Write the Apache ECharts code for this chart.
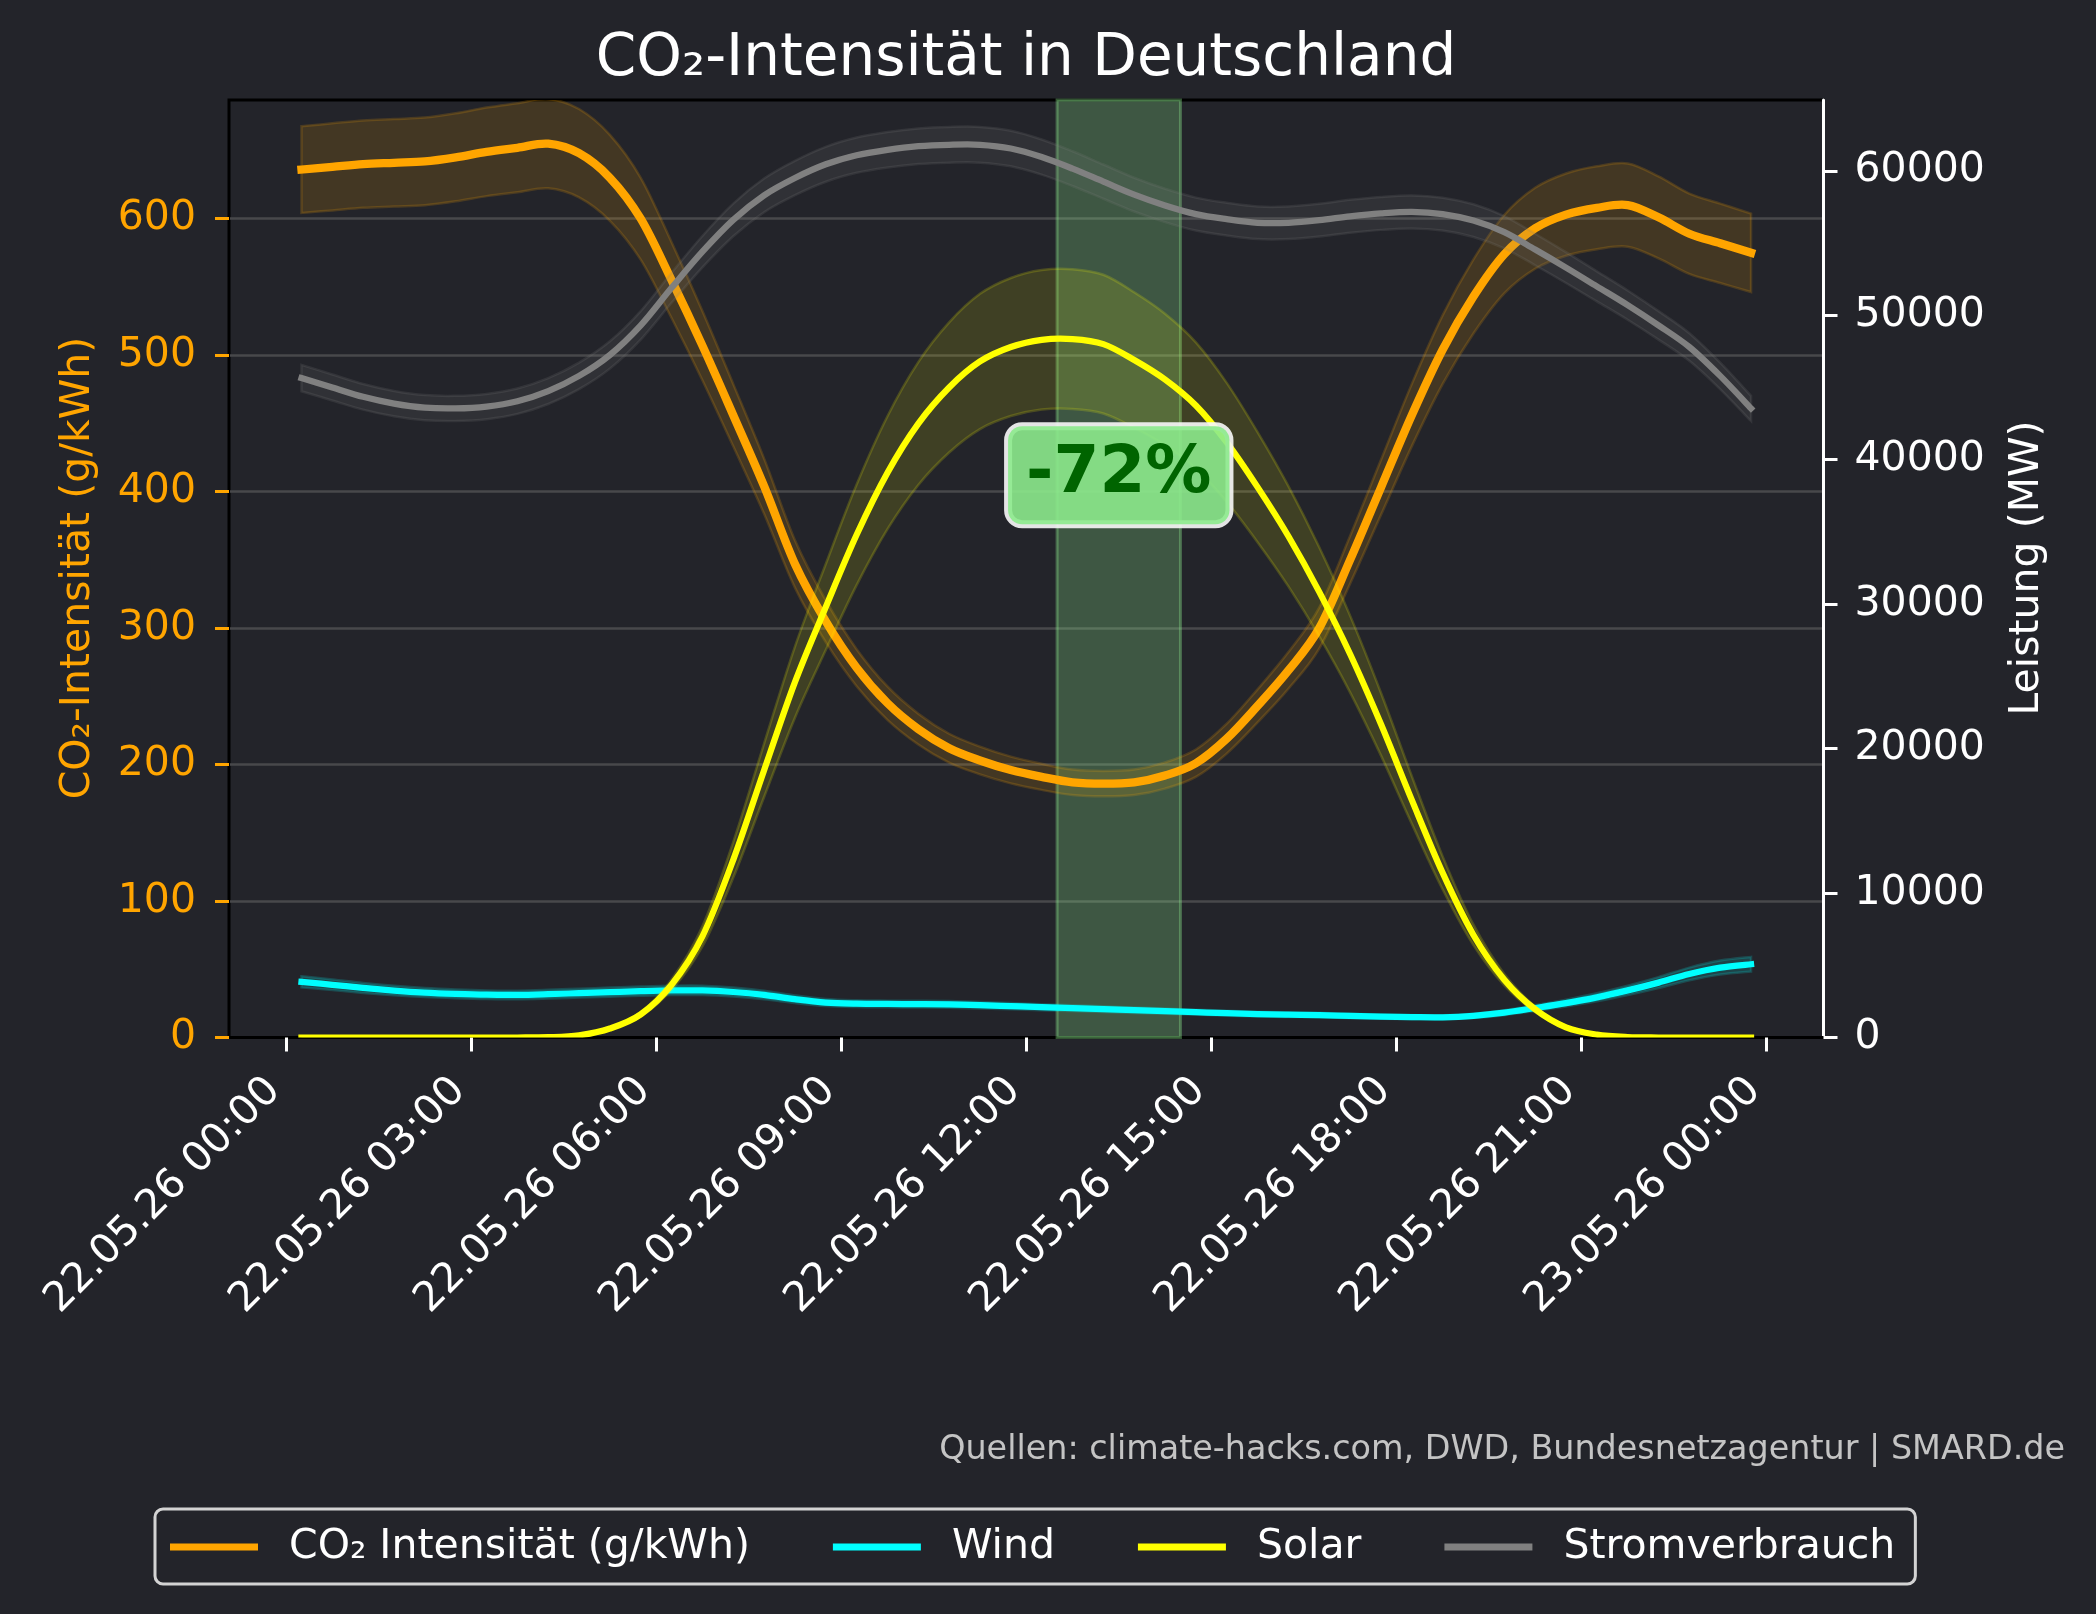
<!DOCTYPE html>
<html>
<head>
<meta charset="utf-8">
<script src="https://cdn.jsdelivr.net/npm/echarts@6/dist/echarts.min.js"></script>
<style>
html,body{margin:0;padding:0;background:#23242a;}
#c{width:2096px;height:1614px;}
</style>
</head>
<body>
<div id="c"></div>
<script>
// ---- data (hours after 22.05.26 00:00) ----
const hours = [0.25,0.75,1.25,1.75,2.25,2.75,3.25,3.75,4.25,4.75,5.25,5.75,6.25,6.75,7.25,7.75,8.25,8.75,9.25,9.75,10.25,10.75,11.25,11.75,12.25,12.75,13.25,13.75,14.25,14.75,15.25,15.75,16.25,16.75,17.25,17.75,18.25,18.75,19.25,19.75,20.25,20.75,21.25,21.75,22.25,22.75,23.25,23.75];
const co2 = [636,638,640,641,642,645,649,652,655,648,630,600,555,507,456,404,347,305,271,245,226,212,203,196,191,187,186,187,192,201,219,243,269,300,350,403,456,504,543,574,593,603,608,610,601,589,582,575];
const wind = [3850,3650,3430,3250,3110,3020,2960,2950,3000,3070,3140,3210,3260,3260,3150,2950,2650,2420,2340,2320,2310,2290,2240,2170,2100,2030,1960,1890,1820,1750,1680,1620,1580,1550,1490,1440,1410,1400,1500,1720,2040,2380,2780,3260,3800,4400,4840,5070];
const solar = [0,0,0,0,0,0,0,0,20,150,620,1600,3650,7000,12300,18500,24600,29800,34800,39100,42500,45000,46800,47800,48300,48350,48000,46900,45550,43750,41200,38100,34700,30850,26550,21700,16450,11400,7100,4000,1950,700,200,30,0,0,0,0];
const strom = [45650,45000,44350,43880,43600,43550,43680,44050,44750,45800,47250,49300,51900,54400,56600,58300,59500,60450,61080,61450,61700,61800,61800,61540,60950,60150,59250,58350,57600,57000,56650,56400,56400,56580,56850,57050,57150,57000,56550,55750,54550,53300,52000,50700,49300,47800,45800,43550];
// relative uncertainty of the shaded bands
const co2Unc = 0.05, windUnc = 0.10, solarUnc = 0.10, stromUnc = 0.02;

const xTickHours = [0,3,6,9,12,15,18,21,24];
const xTickLabels = ['22.05.26 00:00','22.05.26 03:00','22.05.26 06:00','22.05.26 09:00','22.05.26 12:00','22.05.26 15:00','22.05.26 18:00','22.05.26 21:00','23.05.26 00:00'];
const leftTicks = [0,100,200,300,400,500,600];
const rightTicks = [0,10000,20000,30000,40000,50000,60000];

const highlightStart = 12.5, highlightEnd = 14.5;
const annotText = '-72%', annotHour = 13.5, annotCo2 = 412;

const names = ['CO₂ Intensität (g/kWh)', 'Wind', 'Solar', 'Stromverbrauch'];
const colors = ['#FFA500', '#00FFFF', '#FFFF00', '#808080'];
const titleText = 'CO₂-Intensität in Deutschland';
const leftName = 'CO₂-Intensität (g/kWh)';
const rightName = 'Leistung (MW)';
const sourceText = 'Quellen: climate-hacks.com, DWD, Bundesnetzagentur | SMARD.de';

// ---- build ----
const FONT = 'DejaVu Sans';
const BG = '#23242a';

// cubic bezier path through pixel points (Catmull-Rom)
function curvePath(p, start) {
  let d = (start ? 'M' : 'L') + p[0][0] + ' ' + p[0][1];
  for (let i = 0; i < p.length - 1; i++) {
    const p0 = p[i - 1] || p[i], p1 = p[i], p2 = p[i + 1], p3 = p[i + 2] || p[i + 1];
    const c1x = p1[0] + (p2[0] - p0[0]) / 6, c1y = p1[1] + (p2[1] - p0[1]) / 6;
    const c2x = p2[0] - (p3[0] - p1[0]) / 6, c2y = p2[1] - (p3[1] - p1[1]) / 6;
    d += ' C' + c1x + ' ' + c1y + ' ' + c2x + ' ' + c2y + ' ' + p2[0] + ' ' + p2[1];
  }
  return d;
}

function band(key, arr, unc, color, yIdx, fillOp, z) {
  const data = hours.map((h, i) => [h, arr[i] * (1 - unc), arr[i] * (1 + unc)]);
  return {
    type: 'custom', name: key, yAxisIndex: yIdx, z: z, silent: true, animation: false, clip: true,
    encode: {x: 0, y: [1, 2]},
    data: data,
    renderItem: function (params, api) {
      if (params.dataIndex !== 0) return null;
      const up = data.map(d => api.coord([d[0], d[2]]));
      const lo = data.map(d => api.coord([d[0], d[1]])).reverse();
      return {
        type: 'path',
        shape: {pathData: curvePath(up, true) + ' ' + curvePath(lo, false) + ' Z'},
        style: {fill: echarts.color.modifyAlpha(color, fillOp), stroke: echarts.color.modifyAlpha(color, 0.18), lineWidth: 2.5}
      };
    }
  };
}
function line(name, arr, color, width, yIdx, z, extra) {
  const data = hours.map((h, i) => [h, arr[i]]);
  return Object.assign({
    type: 'custom', name: name, yAxisIndex: yIdx, z: z, silent: true, animation: false, clip: true,
    encode: {x: 0, y: 1}, itemStyle: {color: color},
    data: data,
    renderItem: function (params, api) {
      if (params.dataIndex !== 0) return null;
      const p = data.map(d => api.coord(d));
      return {
        type: 'path',
        shape: {pathData: curvePath(p, true)},
        style: {fill: null, stroke: color, lineWidth: width, lineCap: 'square', lineJoin: 'round'}
      };
    }
  }, extra || {});
}

const chart = echarts.init(document.getElementById('c'), null, {renderer: 'canvas', width: 2096, height: 1614});

const series = [
  band('co2b', co2, co2Unc, colors[0], 0, 0.15, 2),
  line(names[0], co2, colors[0], 8.3, 0, 3, {
    markArea: {silent: true, itemStyle: {color: 'rgba(144,238,144,0.25)', borderColor: 'rgba(144,238,144,0.35)', borderWidth: 3},
      data: [[{xAxis: highlightStart}, {xAxis: highlightEnd}]]}
  }),
  band('windb', wind, windUnc, colors[1], 1, 0.15, 4),
  line(names[1], wind, colors[1], 6.25, 1, 5),
  band('solarb', solar, solarUnc, colors[2], 1, 0.13, 6),
  line(names[2], solar, colors[2], 6.25, 1, 7),
  band('stromb', strom, stromUnc, colors[3], 1, 0.15, 8),
  line(names[3], strom, colors[3], 6.25, 1, 9),
  {type: 'scatter', name: 'annot', yAxisIndex: 0, z: 20, silent: true, animation: false,
    symbolSize: 0, itemStyle: {color: 'rgba(0,0,0,0)', opacity: 1},
    data: [[annotHour, annotCo2]],
    label: {show: true, position: 'inside', opacity: 1, formatter: annotText, fontFamily: FONT, fontSize: 66, fontWeight: 'bold',
      color: '#006400', textBorderWidth: 0, backgroundColor: 'rgba(140,234,140,0.9)', borderColor: 'rgba(245,245,245,0.92)', borderWidth: 4,
      borderRadius: 14, padding: [12, 18, 8, 18], lineHeight: 78}
  }
];

const option = {
  backgroundColor: BG,
  animation: false,
  textStyle: {fontFamily: FONT},
  grid: {left: 229, right: 272.5, top: 100, bottom: 576.5, containLabel: false,
    show: true, borderColor: '#000000', borderWidth: 3, backgroundColor: 'transparent'},
  xAxis: {
    type: 'value', min: -0.925, max: 24.925,
    axisLine: {show: true, onZero: false, lineStyle: {color: '#000000', width: 3}},
    axisTick: {show: true, customValues: xTickHours, length: 14, lineStyle: {color: '#ffffff', width: 3}},
    axisLabel: {show: true, customValues: xTickHours, rotate: 45, margin: 35, padding: [0, 17, 0, 0], color: '#ffffff', fontSize: 41, fontFamily: FONT,
      formatter: function (v) { const i = xTickHours.indexOf(v); return i >= 0 ? xTickLabels[i] : ''; }},
    splitLine: {show: false}
  },
  yAxis: [
    {type: 'value', min: 0, max: 687, interval: 100, position: 'left',
      axisLine: {show: true, onZero: false, lineStyle: {color: '#000000', width: 2}},
      axisTick: {show: true, customValues: leftTicks, length: 14, lineStyle: {color: '#FFA500', width: 3}},
      axisLabel: {show: true, customValues: leftTicks, margin: 33, color: '#FFA500', fontSize: 41, fontFamily: FONT,
        formatter: function (v) { return String(v); }},
      splitLine: {show: true, lineStyle: {color: '#48484b', width: 2.5}}
    },
    {type: 'value', min: 0, max: 64900, interval: 10000, position: 'right',
      axisLine: {show: true, onZero: false, lineStyle: {color: '#ffffff', width: 3}},
      axisTick: {show: true, customValues: rightTicks, length: 14, lineStyle: {color: '#ffffff', width: 3}},
      axisLabel: {show: true, customValues: rightTicks, margin: 31, color: '#ffffff', fontSize: 41, fontFamily: FONT,
        formatter: function (v) { return String(v); }},
      splitLine: {show: false}
    }
  ],
  legend: {
    data: names.map((n, i) => ({name: n, icon: 'rect', itemStyle: {color: colors[i]}})),
    orient: 'horizontal', left: 155, top: 1509, itemWidth: 88, itemHeight: 7, itemGap: 83,
    padding: [14, 20, 13, 15], borderColor: '#d3d3d3', borderWidth: 3, borderRadius: 8, backgroundColor: BG,
    selectedMode: false,
    textStyle: {color: '#ffffff', fontSize: 41, fontFamily: FONT, lineHeight: 48, padding: [0, 0, 0, 26]}
  },
  graphic: [
    {type: 'text', x: 1026, y: 60, silent: true, style: {text: titleText, fontSize: 58, fontFamily: FONT, fill: '#ffffff', align: 'center', verticalAlign: 'middle'}},
    {type: 'text', x: 78, y: 568, rotation: Math.PI / 2, silent: true, style: {text: leftName, fontSize: 41, fontFamily: FONT, fill: '#FFA500', align: 'center', verticalAlign: 'middle'}},
    {type: 'text', x: 2027, y: 568, rotation: Math.PI / 2, silent: true, style: {text: rightName, fontSize: 41, fontFamily: FONT, fill: '#ffffff', align: 'center', verticalAlign: 'middle'}},
    {type: 'text', x: 2065, y: 1450, silent: true, style: {text: sourceText, fontSize: 33.4, fontFamily: FONT, fill: '#c4c4c4', align: 'right', verticalAlign: 'middle'}}
  ],
  series: series
};
chart.setOption(option);
</script>
</body>
</html>
